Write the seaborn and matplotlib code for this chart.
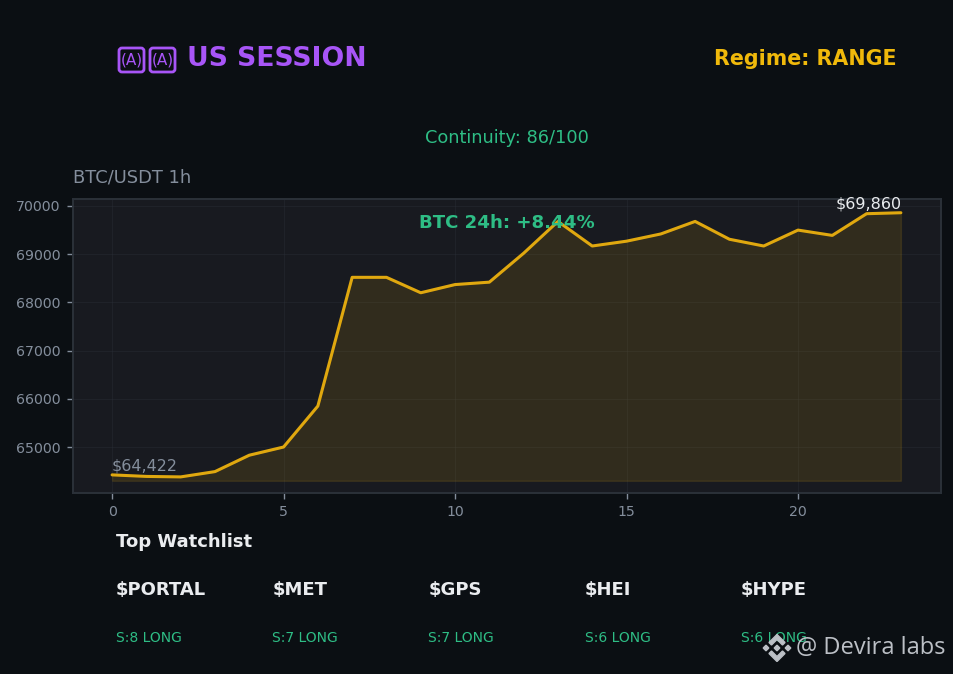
import pandas as pd
import matplotlib.pyplot as plt
from matplotlib.patches import Polygon, FancyBboxPatch
from matplotlib.transforms import Affine2D
import seaborn as sns

hours = list(range(24))
prices = [64422, 64390, 64380, 64490, 64830, 65000, 65850, 68520, 68520, 68200, 68370, 68420,
          69020, 69680, 69170, 69270, 69420, 69680, 69310, 69170, 69500, 69390, 69840, 69860]
x_ticks = [0, 5, 10, 15, 20]
y_ticks = [65000, 66000, 67000, 68000, 69000, 70000]
fill_base = 64300
watchlist = ['$PORTAL', '$MET', '$GPS', '$HEI', '$HYPE']
signals = ['S:8 LONG', 'S:7 LONG', 'S:7 LONG', 'S:6 LONG', 'S:6 LONG']

BG = '#0b0f13'
PANEL = '#181a20'
GOLD = '#e0a80f'
GREEN = '#2ebd85'
GRAY = '#848e9c'
WHITE = '#eaecef'
PURPLE = '#a855f7'
W, H = 954, 674

sns.set_theme(style='darkgrid')
plt.rcParams['font.family'] = ['DejaVu Sans']

df = pd.DataFrame({'hour': hours, 'price': prices})

fig = plt.figure(figsize=(9.54, 6.74), dpi=100, facecolor=BG)
ax = fig.add_axes([73 / W, 1 - 493 / H, 868 / W, 294 / H], facecolor=PANEL)

ax.fill_between(hours, prices, fill_base, color=GOLD, alpha=0.13, linewidth=1)
sns.lineplot(data=df, x='hour', y='price', color=GOLD, linewidth=2.2, ax=ax, zorder=3)

ax.set_xlim(-1.14, 24.17)
ax.set_ylim(64046, 70145)
ax.set_xticks(x_ticks)
ax.set_yticks(y_ticks)
ax.set_xlabel('')
ax.set_ylabel('')
ax.tick_params(colors=GRAY, labelsize=10.2, length=4.3, width=1, color=GRAY, pad=4.5, bottom=True, left=True)
ax.grid(True, color='#2b3139', alpha=0.45, linewidth=0.6)
for s in ax.spines.values():
    s.set_visible(True)
    s.set_color('#2b3139')
    s.set_linewidth(1.4)

# end point labels
ax.text(hours[0], prices[0] + 30, f'${prices[0]:,}', color=GRAY, fontsize=11.5, va='bottom', ha='left')
ax.text(hours[-1] + 0.03, prices[-1] + 30, f'${prices[-1]:,}', color=WHITE, fontsize=11.5, va='bottom', ha='right')
ax.text(0.5, 0.92, 'BTC 24h: +8.44%', transform=ax.transAxes, color=GREEN, fontsize=13.1,
        fontweight='bold', ha='center', va='center', zorder=5)


def px_text(x, y, s, **kw):
    fig.text(x / W, 1 - y / H, s, **kw)


px_text(73, 178, 'BTC/USDT 1h', color=GRAY, fontsize=12.9, va='center')
px_text(187, 59, 'US SESSION', color=PURPLE, fontsize=19.2, fontweight='bold', va='center')
px_text(897, 59, 'Regime: RANGE', color='#f0b90b', fontsize=14.9, fontweight='bold', va='center', ha='right')
px_text(507, 138, 'Continuity: 86/100', color=GREEN, fontsize=12.8, va='center', ha='center')
px_text(116, 542, 'Top Watchlist', color=WHITE, fontsize=13, fontweight='bold', va='center')

for i, (sym, sig) in enumerate(zip(watchlist, signals)):
    x = 116 + i * 156.2
    px_text(x, 590, sym, color=WHITE, fontsize=13, fontweight='bold', va='center')
    px_text(x, 638, sig, color=GREEN, fontsize=10, va='center')

# pixel coords with y going down, for the shapes no installed font has
px = Affine2D().scale(1 / W, -1 / H).translate(0, 1) + fig.transFigure

# flag glyphs that come out as boxed letters in the reference
for bx in (118, 149):
    fig.add_artist(FancyBboxPatch((bx + 2, 49), 23, 22, boxstyle='round,pad=1,rounding_size=3', transform=px,
                                  fill=False, edgecolor=PURPLE, linewidth=2))
    px_text(bx + 13.5, 60, '(A)', color=PURPLE, fontsize=11, va='center', ha='center')

# watermark logo
logo_color = '#bcc0c6'
cx, cy = 777, 648
chevron = [(0, -13.5), (8, -5.5), (5.5, -3), (0, -8.5), (-5.5, -3), (-8, -5.5)]
fig.add_artist(Polygon([(cx + a, cy + b) for a, b in chevron], closed=True, transform=px, color=logo_color, zorder=10))
fig.add_artist(Polygon([(cx + a, cy - b) for a, b in chevron], closed=True, transform=px, color=logo_color, zorder=10))
for dx in (-11, 0, 11):
    r = 2.8
    pts = [(cx + dx, cy - r), (cx + dx + r, cy), (cx + dx, cy + r), (cx + dx - r, cy)]
    fig.add_artist(Polygon(pts, closed=True, transform=px, color=logo_color, zorder=10))
px_text(796, 648, '@ Devira labs', color=logo_color, fontsize=17, family='Open Sans', va='center', zorder=10)

fig.savefig('out.png', dpi=100, facecolor=BG)
plt.close(fig)
